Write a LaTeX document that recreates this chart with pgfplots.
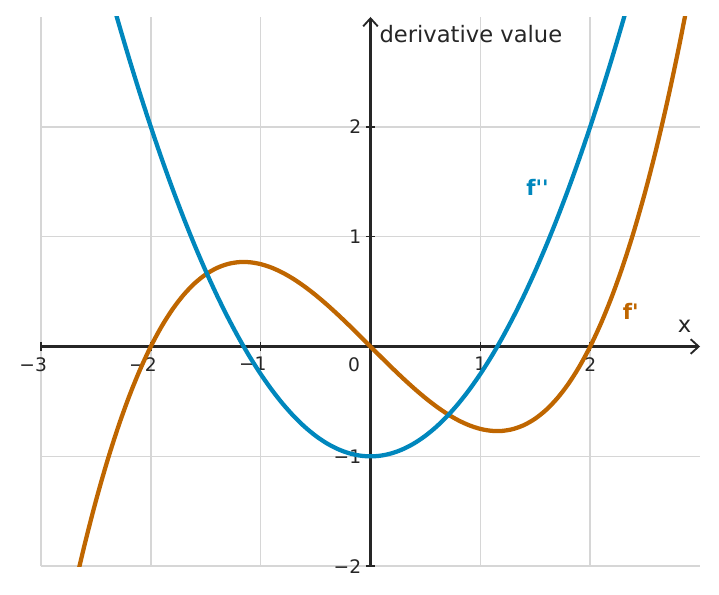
\documentclass[border=0pt]{standalone}
\usepackage{fontspec}
\setmainfont{DejaVu Sans}[Ligatures=TeXOff]
\usepackage{pgfplots}
\pgfplotsset{compat=1.18}
\usetikzlibrary{arrows.meta}
\definecolor{cblue}{HTML}{0087BD}
\definecolor{corange}{HTML}{BF6600}
\definecolor{axgray}{HTML}{262626}
\definecolor{gridgray}{HTML}{D6D6D6}
\begin{document}
\begin{tikzpicture}
\begin{axis}[
  scale only axis,
  width=495pt, height=412.5pt,
  xmin=-3, xmax=3, ymin=-2, ymax=3,
  axis lines=middle,
  axis line style={axgray, line width=1.6pt},
  x axis line style={-{Straight Barb[length=6pt,width=11pt,line width=1.4pt]}},
  y axis line style={-{Straight Barb[length=6pt,width=11pt,line width=1.4pt]}},
  xtick={-3,-2,-1,0,1,2},
  xticklabels={\llap{−}3,\llap{−}2,\llap{−}1,,1,2},
  ytick={-2,-1,1,2},
  yticklabels={−2,−1,1,2},
  grid=major,
  major grid style={gridgray, line width=1.1pt},
  tick align=center,
  major tick length=7pt,
  tick style={axgray, line width=1.2pt},
  tick label style={font=\fontsize{14}{16}\selectfont, text=axgray},
  xticklabel style={yshift=-1pt},
  /pgf/number format/assume math mode=true,
  clip=true,
]
\addplot[corange, line width=3.2pt, smooth] coordinates {
(-2.8,-2.688) (-2.7,-2.2208) (-2.6,-1.794) (-2.5,-1.40625) (-2.4,-1.056)
(-2.3,-0.74175) (-2.2,-0.462) (-2.1,-0.21525) (-2.0,0) (-1.9,0.18525)
(-1.8,0.342) (-1.7,0.47175) (-1.6,0.576) (-1.5,0.65625) (-1.4,0.714)
(-1.3,0.75075) (-1.2,0.768) (-1.1,0.76725) (-1.0,0.75) (-0.9,0.71775)
(-0.8,0.672) (-0.7,0.61425) (-0.6,0.546) (-0.5,0.46875) (-0.4,0.384)
(-0.3,0.29325) (-0.2,0.198) (-0.1,0.09975) (0,0)
(0.1,-0.09975) (0.2,-0.198) (0.3,-0.29325) (0.4,-0.384) (0.5,-0.46875)
(0.6,-0.546) (0.7,-0.61425) (0.8,-0.672) (0.9,-0.71775) (1.0,-0.75)
(1.1,-0.76725) (1.2,-0.768) (1.3,-0.75075) (1.4,-0.714) (1.5,-0.65625)
(1.6,-0.576) (1.7,-0.47175) (1.8,-0.342) (1.9,-0.18525) (2.0,0)
(2.1,0.21525) (2.2,0.462) (2.3,0.74175) (2.4,1.056) (2.5,1.40625)
(2.6,1.794) (2.7,2.2208) (2.8,2.688) (2.9,3.19725) (3.0,3.75)
};
\addplot[cblue, line width=3.2pt, smooth] coordinates {
(-2.4,3.32) (-2.3,2.9675) (-2.2,2.63) (-2.1,2.3075) (-2.0,2)
(-1.9,1.7075) (-1.8,1.43) (-1.7,1.1675) (-1.6,0.92) (-1.5,0.6875)
(-1.4,0.47) (-1.3,0.2675) (-1.2,0.08) (-1.1,-0.0925) (-1.0,-0.25)
(-0.9,-0.3925) (-0.8,-0.52) (-0.7,-0.6325) (-0.6,-0.73) (-0.5,-0.8125)
(-0.4,-0.88) (-0.3,-0.9325) (-0.2,-0.97) (-0.1,-0.9925) (0,-1)
(0.1,-0.9925) (0.2,-0.97) (0.3,-0.9325) (0.4,-0.88) (0.5,-0.8125)
(0.6,-0.73) (0.7,-0.6325) (0.8,-0.52) (0.9,-0.3925) (1.0,-0.25)
(1.1,-0.0925) (1.2,0.08) (1.3,0.2675) (1.4,0.47) (1.5,0.6875)
(1.6,0.92) (1.7,1.1675) (1.8,1.43) (1.9,1.7075) (2.0,2)
(2.1,2.3075) (2.2,2.63) (2.3,2.9675) (2.4,3.32)
};
\node[text=cblue, font=\bfseries\fontsize{16}{18}\selectfont] at (axis cs:1.52,1.45) {f''};
\node[text=corange, font=\bfseries\fontsize{16}{18}\selectfont] at (axis cs:2.37,0.32) {f'};
\node[text=axgray, font=\fontsize{17}{19}\selectfont] at (axis cs:2.86,0.18) {x};
\node[text=axgray, font=\fontsize{17}{19}\selectfont, anchor=west, inner sep=0pt] at (axis cs:0.08,2.84) {derivative value};
\node[text=axgray, font=\fontsize{14}{16}\selectfont] at (axis cs:-0.15,-0.17) {0};
\end{axis}
\pgfresetboundingbox
\path ([xshift=-30.75pt,yshift=-21pt]current axis.south west) rectangle ([xshift=14.25pt,yshift=12.75pt]current axis.north east);
\end{tikzpicture}
\end{document}
